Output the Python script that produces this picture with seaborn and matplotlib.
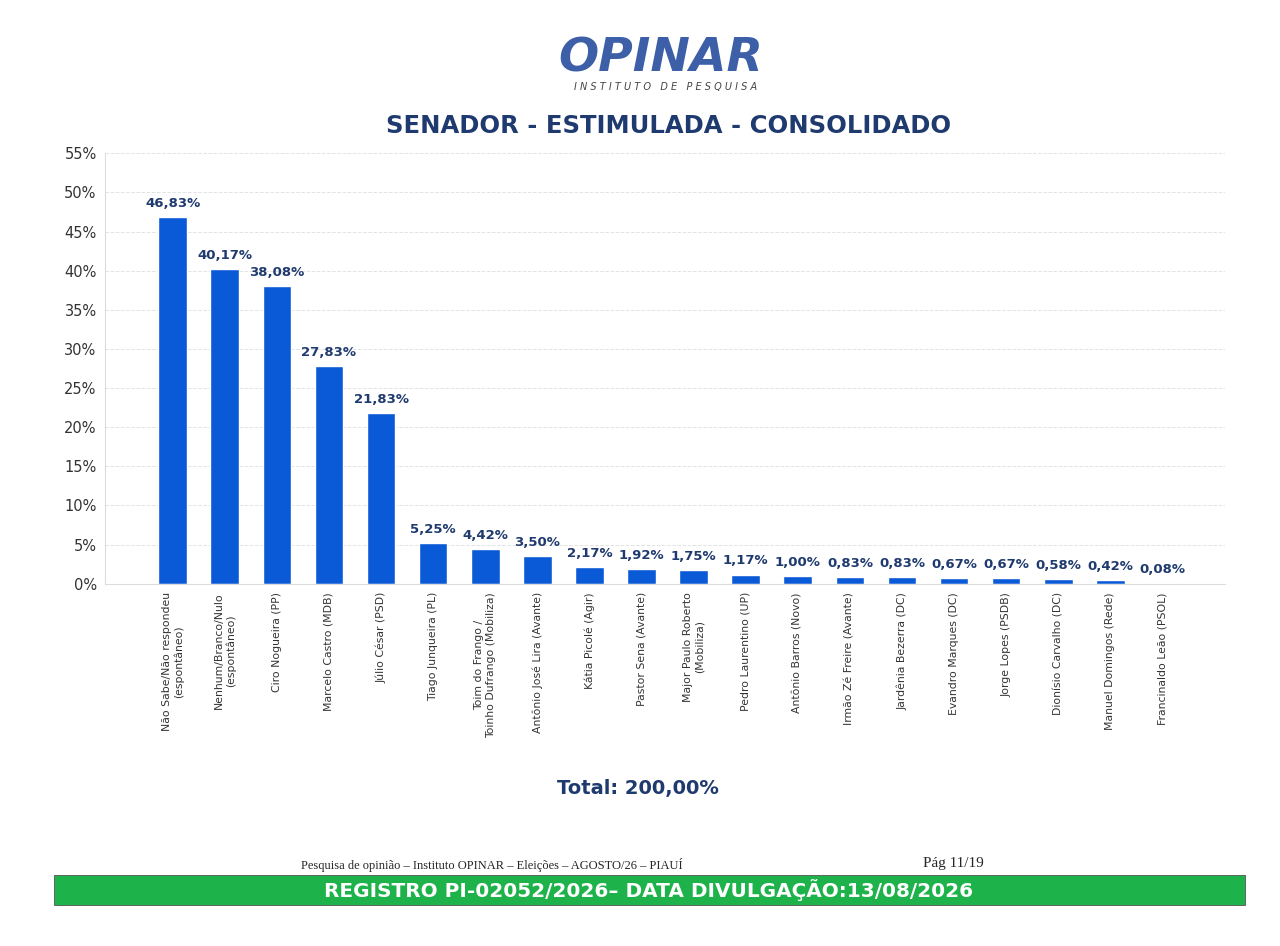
import matplotlib
matplotlib.use("Agg")
import matplotlib.pyplot as plt
from matplotlib.patches import Rectangle
import pandas as pd
import seaborn as sns

# Dados da pesquisa
candidatos = [
    'Não Sabe/Não respondeu\n(espontâneo)',
    'Nenhum/Branco/Nulo\n(espontâneo)',
    'Ciro Nogueira (PP)',
    'Marcelo Castro (MDB)',
    'Júlio César (PSD)',
    'Tiago Junqueira (PL)',
    'Toim do Frango /\nToinho Dufrango (Mobiliza)',
    'Antônio José Lira (Avante)',
    'Kátia Picolé (Agir)',
    'Pastor Sena (Avante)',
    'Major Paulo Roberto\n(Mobiliza)',
    'Pedro Laurentino (UP)',
    'Antônio Barros (Novo)',
    'Irmão Zé Freire (Avante)',
    'Jardênia Bezerra (DC)',
    'Evandro Marques (DC)',
    'Jorge Lopes (PSDB)',
    'Dionísio Carvalho (DC)',
    'Manuel Domingos (Rede)',
    'Francinaldo Leão (PSOL)',
]
percentuais = [46.83, 40.17, 38.08, 27.83, 21.83, 5.25, 4.42, 3.50, 2.17, 1.92,
               1.75, 1.17, 1.00, 0.83, 0.83, 0.67, 0.67, 0.58, 0.42, 0.08]
y_ticks = list(range(0, 56, 5))

df = pd.DataFrame({'Candidato': candidatos, 'Percentual': percentuais})

sns.set_style('white')
plt.rcParams['font.family'] = ['DejaVu Sans']

fig = plt.figure(figsize=(12.8, 9.46), dpi=100)
fig.patch.set_facecolor('white')
ax = fig.add_axes([0.082, 0.383, 0.875, 0.455])

sns.barplot(data=df, x='Candidato', y='Percentual', color='#0a5ad8',
            saturation=1, width=0.55, ax=ax)

ax.set_ylim(0, 55)
ax.set_xlim(-1.3, 20.2)
ax.set_yticks(y_ticks)
ax.set_yticklabels([f'{t}%' for t in y_ticks], fontsize=10.5, color='#333333')
ax.set_xticks(range(len(candidatos)))
ax.set_xticklabels(candidatos, rotation=90, fontsize=7.8, color='#333333',
                   ha='center', va='top', multialignment='center')
ax.set_xlabel('')
ax.set_ylabel('')
ax.yaxis.grid(True, linestyle='--', color='#e3e3e3', linewidth=0.7)
ax.set_axisbelow(True)
for s in ['top', 'right']:
    ax.spines[s].set_visible(False)
ax.spines['left'].set_color('#dddddd')
ax.spines['bottom'].set_color('#dddddd')
ax.tick_params(axis='y', length=3, color='#999999', pad=3)
ax.tick_params(axis='x', length=0, pad=6)

for i, v in enumerate(percentuais):
    ax.text(i, v + 0.9, f'{v:.2f}%'.replace('.', ','), ha='center', va='bottom',
            fontsize=9.5, fontweight='bold', color='#1f3a6e')

# Cabeçalho
fig.text(0.516, 0.938, 'OPINAR', ha='center', va='center', fontsize=34,
         fontweight='bold', style='italic', color='#3d5fa8')
fig.text(0.52, 0.908, 'I N S T I T U T O   D E   P E S Q U I S A', ha='center',
         va='center', fontsize=7, style='italic', color='#444444')
fig.text(0.522, 0.867, 'SENADOR - ESTIMULADA - CONSOLIDADO', ha='center',
         va='center', fontsize=17.5, fontweight='bold', color='#1f3a6e')

fig.text(0.498, 0.167, 'Total: 200,00%', ha='center', va='center',
         fontsize=14, fontweight='bold', color='#1f3a6e')

# Rodapé
fig.text(0.384, 0.086, 'Pesquisa de opinião – Instituto OPINAR – Eleições – AGOSTO/26 – PIAUÍ',
         ha='center', va='center', fontsize=9, family='Liberation Serif')
fig.text(0.745, 0.087, 'Pág 11/19', ha='center', va='center', fontsize=11,
         family='Liberation Serif')
fig.patches.append(Rectangle((0.042, 0.043), 0.931, 0.032, transform=fig.transFigure,
                             facecolor='#1db34a', edgecolor='#555555', linewidth=0.6))
fig.text(0.507, 0.059, 'REGISTRO PI-02052/2026– DATA DIVULGAÇÃO:13/08/2026',
         ha='center', va='center', fontsize=14.4, fontweight='bold', color='white')

fig.savefig('out.png', dpi=100)
